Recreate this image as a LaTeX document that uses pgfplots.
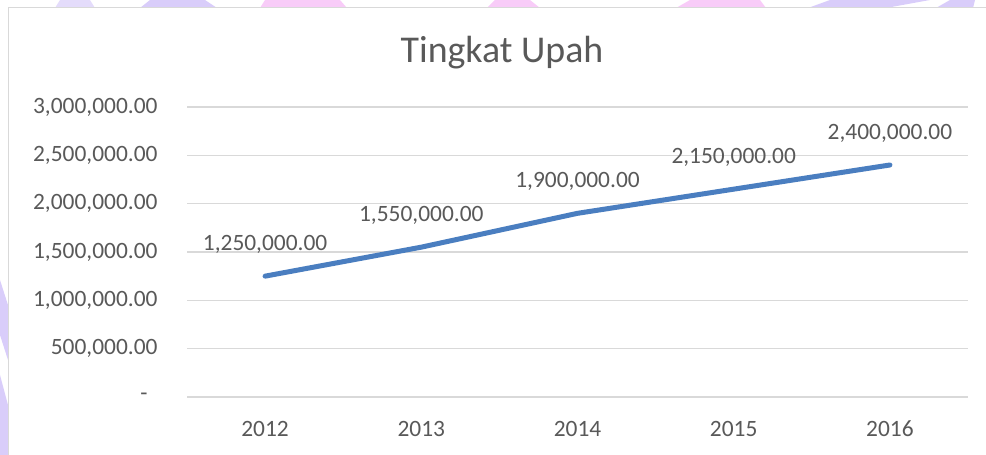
\documentclass[border=0pt]{standalone}
\usepackage{fontspec}
\setmainfont{Carlito}
\usepackage{pgfplots}
\pgfplotsset{compat=1.18}
\definecolor{txt}{HTML}{595959}
\definecolor{gridc}{HTML}{D9D9D9}
\definecolor{linec}{HTML}{4A7EC0}
\definecolor{lav}{HTML}{D9CDFA}
\definecolor{pinkc}{HTML}{F8CCF8}
\begin{document}
\begin{tikzpicture}[x=1bp,y=1bp]
\useasboundingbox (0,0) rectangle (986,455);
\begin{scope}
\clip (0,0) rectangle (986,455);
% faint watermark fragments visible outside the chart frame
\fill[lav!70] (55,447) -- (95,447) -- (90,455) -- (60,455) -- cycle;
\fill[lav] (140,447) -- (217,447) -- (205,455) -- (150,455) -- cycle;
\fill[pinkc] (260,447) -- (347,447) -- (340,455) -- (265,455) -- cycle;
\fill[pinkc] (487,447) -- (540,447) -- (530,455) -- (495,455) -- cycle;
\fill[pinkc] (676,447) -- (766,447) -- (760,455) -- (690,455) -- cycle;
\fill[lav] (808,447) -- (886,447) -- (930,455) -- (830,455) -- cycle;
\fill[lav] (936,447) -- (973,447) -- (975,455) -- (950,455) -- cycle;
\fill[lav] (0,175) -- (8,150) -- (8,95) -- (0,120) -- cycle;
\fill[lav] (0,80) -- (8,50) -- (8,0) -- (0,0) -- cycle;
\fill[white] (8.5,-10) rectangle (1000,447.5);
\draw[gridc, line width=1.5bp] (8.5,-10) rectangle (1000,447.5);
\end{scope}
\node[text=txt, font=\fontsize{38}{44}\selectfont] at (502,402) {Tingkat Upah};
\begin{axis}[
  at={(187bp,58bp)}, anchor=south west,
  scale only axis, width=781bp, height=290bp,
  xmin=-0.5, xmax=4.5, ymin=0, ymax=3000000,
  axis line style={draw=none},
  major tick style={draw=none},
  xtick={0,1,2,3,4},
  xticklabels={2012,2013,2014,2015,2016},
  ytick={0,500000,1000000,1500000,2000000,2500000,3000000},
  yticklabels={{-\kern10bp},{500,000.00},{1,000,000.00},{1,500,000.00},{2,000,000.00},{2,500,000.00},{3,000,000.00}},
  xmajorgrids=false,
  ymajorgrids=true,
  major grid style={draw=gridc, line width=1.2bp},
  tick label style={text=txt, font=\fontsize{23.5}{27}\selectfont},
  xticklabel style={anchor=center, yshift=-32bp},
  yticklabel style={anchor=east, xshift=-26bp},
  clip=false,
  scaled y ticks=false,
]
\addplot[linec, line width=5bp, line cap=round, mark=none,
  nodes near coords, point meta=explicit symbolic,
  every node near coord/.style={anchor=center, yshift=32bp, text=txt, font=\fontsize{23.5}{27}\selectfont}]
  table[meta=lab] {
x y lab
0 1250000 {1,250,000.00}
1 1550000 {1,550,000.00}
2 1900000 {1,900,000.00}
3 2150000 {2,150,000.00}
4 2400000 {2,400,000.00}
};
\end{axis}
\end{tikzpicture}
\end{document}
